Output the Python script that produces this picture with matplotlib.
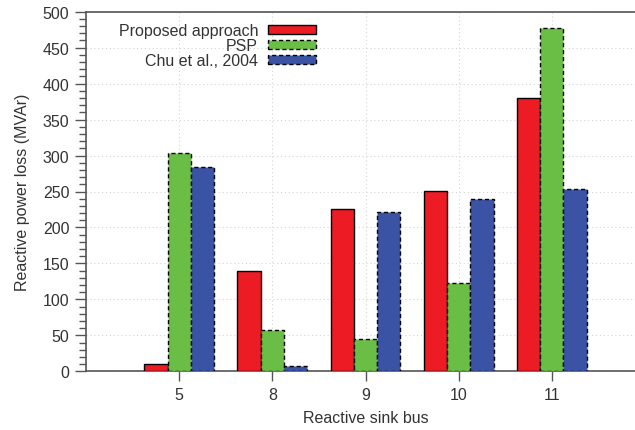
import matplotlib
matplotlib.use("Agg")
import matplotlib.pyplot as plt
import numpy as np
from matplotlib.ticker import MultipleLocator

plt.rcParams['font.family'] = ['Liberation Sans', 'DejaVu Sans']

buses = ["5", "8", "9", "10", "11"]
proposed = [10, 139, 226, 251, 380]
psp = [304, 57, 45, 123, 477]
chu = [284, 7, 221, 240, 254]
series_labels = ["Proposed approach", "PSP", "Chu et al., 2004"]

colors = ["#ED1C24", "#6ABD45", "#3A53A4"]
styles = ["solid", (0, (3, 2)), (0, (3, 2))]

fig = plt.figure(figsize=(6.35, 4.31), dpi=100)
ax = fig.add_axes([86 / 635, 1 - 372.3 / 431, (645 - 86) / 635, (372.3 - 12.7) / 431])

x = np.arange(len(buses))
w = 0.25
for i, (vals, lab) in enumerate(zip([proposed, psp, chu], series_labels)):
    ax.bar(x + (i - 1) * w, vals, width=w, color=colors[i], edgecolor="black",
           linewidth=1.0, linestyle=styles[i], label=lab, zorder=3)

ax.set_xlim(-1, 5)
ax.set_ylim(0, 500)
ax.set_xticks(x)
ax.set_xticklabels(buses)
ax.yaxis.set_major_locator(MultipleLocator(50))
ax.yaxis.set_minor_locator(MultipleLocator(10))

fs = 11.5
txt = "#333333"
spine_c = "#555555"
ax.tick_params(axis="both", which="major", direction="out", colors=spine_c,
               labelcolor=txt, labelsize=fs, width=1.0)
ax.tick_params(axis="y", which="major", length=8, pad=4)
ax.tick_params(axis="y", which="minor", direction="out", length=5, width=1.0, colors=spine_c)
ax.tick_params(axis="x", which="major", length=7, pad=4)

for s in ["left", "top", "bottom"]:
    ax.spines[s].set_color(spine_c)
    ax.spines[s].set_linewidth(1.2)
ax.spines["right"].set_visible(False)

ax.grid(True, which="major", color="#d4d4d4", linestyle=(0, (1, 2.5)), linewidth=0.8, zorder=0)
ax.set_axisbelow(True)

ax.set_ylabel("Reactive power loss (MVAr)", fontsize=fs, color=txt, labelpad=9)
ax.set_xlabel("Reactive sink bus", fontsize=fs, color=txt, labelpad=6)

leg = ax.legend(loc="upper right", bbox_to_anchor=(0.411, 0.968), frameon=False,
                markerfirst=False, fontsize=fs, handlelength=3.0, handleheight=0.5,
                labelspacing=0.0, handletextpad=0.6, borderaxespad=0, borderpad=0)
for t in leg.get_texts():
    t.set_color(txt)
    t.set_ha("right")

fig.savefig("out.png", dpi=100)
